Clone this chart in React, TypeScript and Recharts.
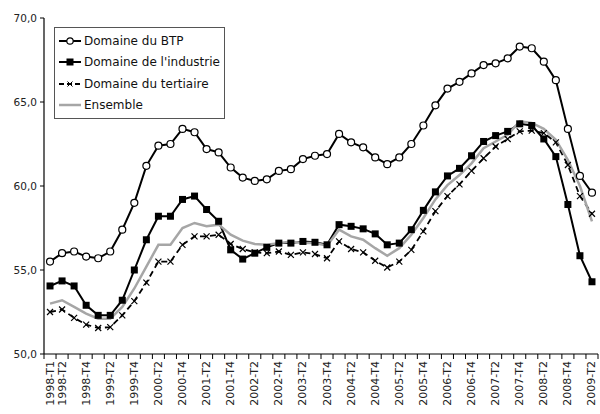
import React from "react";
import { LineChart, Line, XAxis, YAxis, Legend } from "recharts";

// Quarterly series, 1998-T1 .. 2009-T2
const QUARTERS = [
  "1998-T1", "1998-T2", "1998-T3", "1998-T4",
  "1999-T1", "1999-T2", "1999-T3", "1999-T4",
  "2000-T1", "2000-T2", "2000-T3", "2000-T4",
  "2001-T1", "2001-T2", "2001-T3", "2001-T4",
  "2002-T1", "2002-T2", "2002-T3", "2002-T4",
  "2003-T1", "2003-T2", "2003-T3", "2003-T4",
  "2004-T1", "2004-T2", "2004-T3", "2004-T4",
  "2005-T1", "2005-T2", "2005-T3", "2005-T4",
  "2006-T1", "2006-T2", "2006-T3", "2006-T4",
  "2007-T1", "2007-T2", "2007-T3", "2007-T4",
  "2008-T1", "2008-T2", "2008-T3", "2008-T4",
  "2009-T1", "2009-T2",
];

const BTP = [
  55.5, 56.0, 56.1, 55.8, 55.7, 56.1, 57.4, 59.0, 61.2, 62.4, 62.5, 63.4,
  63.2, 62.2, 62.0, 61.1, 60.5, 60.3, 60.4, 60.9, 61.0, 61.6, 61.8, 61.9,
  63.1, 62.6, 62.3, 61.7, 61.3, 61.7, 62.5, 63.6, 64.8, 65.8, 66.2, 66.7,
  67.2, 67.3, 67.6, 68.3, 68.2, 67.4, 66.3, 63.4, 60.6, 59.6,
];

const INDUSTRIE = [
  54.05, 54.35, 54.05, 52.9, 52.3, 52.3, 53.2, 55.0, 56.8, 58.2, 58.2, 59.2,
  59.4, 58.6, 57.9, 56.2, 55.65, 56.0, 56.35, 56.6, 56.6, 56.7, 56.65, 56.5,
  57.7, 57.6, 57.45, 57.15, 56.5, 56.6, 57.4, 58.55, 59.65, 60.6, 61.05, 61.8,
  62.65, 63.0, 63.25, 63.7, 63.6, 62.8, 61.75, 58.9, 55.85, 54.3,
];

const TERTIAIRE = [
  52.5, 52.65, 52.15, 51.75, 51.55, 51.6, 52.3, 53.15, 54.25, 55.5, 55.5, 56.5,
  57.0, 57.0, 57.1, 56.55, 56.25, 56.05, 56.0, 56.1, 55.9, 56.05, 55.95, 55.7,
  56.7, 56.25, 56.05, 55.55, 55.15, 55.5, 56.2, 57.3, 58.5, 59.4, 60.1, 60.9,
  61.65, 62.35, 62.8, 63.25, 63.3, 63.15, 62.6, 61.25, 59.4, 58.35,
];

const ENSEMBLE = [
  53.0, 53.2, 52.8, 52.4, 52.1, 52.1, 52.8, 53.9, 55.2, 56.5, 56.5, 57.5,
  57.8, 57.6, 57.7, 57.1, 56.75, 56.55, 56.5, 56.6, 56.7, 56.6, 56.6, 56.45,
  57.4, 57.0, 56.8, 56.3, 55.85, 56.3, 57.1, 58.1, 59.2, 60.05, 60.65, 61.35,
  62.25, 62.65, 63.05, 63.85, 63.75, 63.4, 62.75, 61.55, 60.0, 57.9,
];

// quarters that carry a label on the x axis
const LABELLED = [
  "1998-T1", "1998-T2", "1998-T4", "1999-T2", "1999-T4", "2000-T2", "2000-T4",
  "2001-T2", "2001-T4", "2002-T2", "2002-T4", "2003-T2", "2003-T4", "2004-T2",
  "2004-T4", "2005-T2", "2005-T4", "2006-T2", "2006-T4", "2007-T2", "2007-T4",
  "2008-T2", "2008-T4", "2009-T2",
];

const Y_TICKS = [50, 55, 60, 65, 70];

// legend order, as in the source workbook
const SERIES_ORDER = ["btp", "ind", "ter", "ens"];

const FONT = "'DejaVu Sans', sans-serif";
const GRAY = "#a6a6a6";

const data = QUARTERS.map((q, i) => ({
  idx: i,
  q,
  btp: BTP[i],
  ind: INDUSTRIE[i],
  ter: TERTIAIRE[i],
  ens: ENSEMBLE[i],
}));

// tick marks sit on category boundaries, labels on category centres
const boundaryTicks = [-0.5, ...QUARTERS.map((_, i) => i + 0.5)];
const labelTicks = LABELLED.map((l) => QUARTERS.indexOf(l));
const X_TICKS = [...boundaryTicks, ...labelTicks].sort((a, b) => a - b);
const X_DOMAIN = [-0.5, QUARTERS.length - 0.5];

function XTick(props: any) {
  const { x, y, payload } = props;
  const v = payload.value;
  if (!Number.isInteger(v)) {
    return <line x1={x} y1={y} x2={x} y2={y + 5} stroke="#000" strokeWidth={1} />;
  }
  const ty = y + 7;
  return (
    <text
      x={x}
      y={ty}
      transform={`rotate(-90 ${x} ${ty})`}
      textAnchor="end"
      dominantBaseline="central"
      fontSize={11}
      fontFamily={FONT}
      fill="#222"
    >
      {QUARTERS[v]}
    </text>
  );
}

const CircleDot = (p: any) => (
  <circle key={p.index} cx={p.cx} cy={p.cy} r={3.5} fill="#fff" stroke="#000" strokeWidth={1.2} />
);

const SquareDot = (p: any) => (
  <rect key={p.index} x={p.cx - 3.5} y={p.cy - 3.5} width={7} height={7} fill="#000" />
);

const CrossDot = (p: any) => (
  <path
    key={p.index}
    d={`M${p.cx - 3},${p.cy - 3}L${p.cx + 3},${p.cy + 3}M${p.cx - 3},${p.cy + 3}L${p.cx + 3},${p.cy - 3}`}
    stroke="#000"
    strokeWidth={1.2}
    fill="none"
  />
);

const MARKERS: Record<string, (cx: number, cy: number) => React.ReactNode> = {
  btp: (cx, cy) => <circle cx={cx} cy={cy} r={3.2} fill="#fff" stroke="#000" strokeWidth={1.2} />,
  ind: (cx, cy) => <rect x={cx - 3.5} y={cy - 3.5} width={7} height={7} fill="#000" />,
  ter: (cx, cy) => (
    <path
      d={`M${cx - 2.5},${cy - 2.5}L${cx + 2.5},${cy + 2.5}M${cx - 2.5},${cy + 2.5}L${cx + 2.5},${cy - 2.5}`}
      stroke="#000"
      strokeWidth={1}
    />
  ),
  ens: () => null,
};

function LegendBox(props: any) {
  const items = [...(props.payload || [])].sort(
    (a: any, b: any) => SERIES_ORDER.indexOf(a.dataKey) - SERIES_ORDER.indexOf(b.dataKey)
  );
  return (
    <div
      style={{
        border: "1px solid #555",
        background: "#fff",
        padding: "2px 4px 2px 3px",
        fontFamily: FONT,
        fontSize: 12,
        color: "#111",
        boxSizing: "border-box",
        width: 171,
      }}
    >
      {items.map((it: any) => {
        const key = it.dataKey as string;
        const dashed = key === "ter";
        return (
          <div key={key} style={{ display: "flex", alignItems: "center", height: 21.5 }}>
            <svg width={24} height={12} style={{ marginRight: 2 }}>
              <line
                x1={1}
                y1={6}
                x2={23}
                y2={6}
                stroke={it.color}
                strokeWidth={key === "ens" ? 2.5 : 2}
                strokeDasharray={dashed ? "5 3" : undefined}
              />
              {MARKERS[key](12, 6)}
            </svg>
            <span>{it.value}</span>
          </div>
        );
      })}
    </div>
  );
}

export default function App() {
  return (
    <div style={{ position: "absolute", left: 0, top: 0, width: 600, height: 414, background: "#fff" }}>
      <LineChart
        width={600}
        height={414}
        data={data}
        margin={{ top: 18, right: 2, bottom: 0, left: 0 }}
      >
        <XAxis
          dataKey="idx"
          type="number"
          domain={X_DOMAIN}
          ticks={X_TICKS}
          interval={0}
          height={60}
          tickSize={0}
          tickMargin={0}
          tickLine={false}
          tick={<XTick />}
          axisLine={{ stroke: "#000", strokeWidth: 1.2 }}
        />
        <XAxis
          xAxisId="top"
          orientation="top"
          type="number"
          domain={X_DOMAIN}
          height={0}
          tick={false}
          tickLine={false}
          axisLine={{ stroke: "#777", strokeWidth: 1 }}
        />
        <YAxis
          type="number"
          domain={[50, 70]}
          ticks={Y_TICKS}
          interval={0}
          width={44}
          tickSize={4}
          tickMargin={3}
          tickLine={{ stroke: "#000" }}
          axisLine={{ stroke: "#000", strokeWidth: 1.2 }}
          tick={{ fontSize: 10.5, fontFamily: FONT, fill: "#222" }}
          tickFormatter={(v: number) => v.toFixed(1).replace(".", ",")}
        />
        <YAxis
          yAxisId="right"
          orientation="right"
          type="number"
          domain={[50, 70]}
          width={0}
          tick={false}
          tickLine={false}
          axisLine={{ stroke: "#777", strokeWidth: 1 }}
        />
        <Legend
          layout="vertical"
          align="center"
          verticalAlign="middle"
          content={<LegendBox />}
          wrapperStyle={{ position: "absolute", left: 54, top: 27, width: 171 }}
        />
        <Line
          name="Domaine du BTP"
          dataKey="btp"
          stroke="#000"
          strokeWidth={2}
          dot={CircleDot}
          activeDot={false}
          isAnimationActive={false}
        />
        <Line
          name="Domaine de l'industrie"
          dataKey="ind"
          stroke="#000"
          strokeWidth={2}
          dot={SquareDot}
          activeDot={false}
          isAnimationActive={false}
        />
        <Line
          name="Domaine du tertiaire"
          dataKey="ter"
          stroke="#000"
          strokeWidth={1.8}
          strokeDasharray="6 4"
          dot={CrossDot}
          activeDot={false}
          isAnimationActive={false}
        />
        <Line
          name="Ensemble"
          dataKey="ens"
          stroke={GRAY}
          strokeWidth={2.5}
          dot={false}
          activeDot={false}
          isAnimationActive={false}
        />
      </LineChart>
    </div>
  );
}
